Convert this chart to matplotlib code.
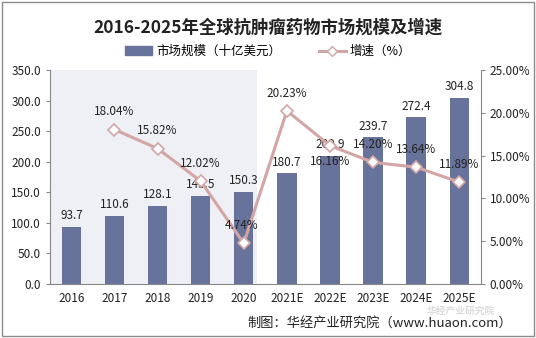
import matplotlib
matplotlib.use("Agg")
import matplotlib.pyplot as plt
from matplotlib.patches import Rectangle

plt.rcParams['font.family'] = ['Noto Sans CJK SC', 'DejaVu Sans']

years = ['2016', '2017', '2018', '2019', '2020', '2021E', '2022E', '2023E', '2024E', '2025E']
market = [93.7, 110.6, 128.1, 143.5, 150.3, 180.7, 209.9, 239.7, 272.4, 304.8]
growth = [None, 18.04, 15.82, 12.02, 4.74, 20.23, 16.16, 14.20, 13.64, 11.89]

barColor = '#67739a'
lineColor = '#d4a5a5'

fig = plt.figure(figsize=(5.36, 3.38), dpi=100)
fig.patches.append(Rectangle((0.004, 0.006), 0.992, 0.988, transform=fig.transFigure,
                             fill=False, edgecolor='#8c8c8c', linewidth=1.0))
ax = fig.add_axes([0.093, 0.160, 0.804, 0.633])
ax2 = ax.twinx()

x = list(range(len(years)))
ax.axvspan(-0.5, 4.3, color='#eef0f5', zorder=0, linewidth=0)
ax.bar(x, market, width=0.45, color=barColor, zorder=2)
for i, v in enumerate(market):
    ax.text(i, v + 8, '%.1f' % v, ha='center', va='bottom', fontsize=8.5, color='#222222', zorder=5)

ax.set_ylim(0, 350)
ax.set_yticks(range(0, 351, 50))
ax.set_yticklabels(['%.1f' % t for t in range(0, 351, 50)])
ax.set_xlim(-0.5, len(years) - 0.5)
ax.set_xticks(x)
ax.set_xticklabels(years)

# growth line, 2016 has no value
gx = [i for i, g in enumerate(growth) if g is not None]
gy = [g for g in growth if g is not None]
ax2.plot(gx, gy, color=lineColor, linewidth=2.2, marker='D', markersize=6,
         markerfacecolor='white', markeredgecolor=lineColor, markeredgewidth=1.2, zorder=4)
offsets = {1: (0, 1.3), 2: (0, 1.3), 3: (0, 1.3), 4: (-0.05, 1.3), 5: (0, 1.3),
           6: (0, -2.6), 7: (0, 1.3), 8: (0, 1.3), 9: (0, 1.3)}
for i, g in zip(gx, gy):
    dx, dy = offsets[i]
    ax2.text(i + dx, g + dy, '%.2f%%' % g, ha='center', va='bottom', fontsize=8.5, color='#222222', zorder=5)
ax2.set_ylim(0, 25)
ax2.set_yticks(range(0, 26, 5))
ax2.set_yticklabels(['%.2f%%' % t for t in range(0, 26, 5)])

for a in (ax, ax2):
    for s in a.spines.values():
        s.set_visible(False)
    a.tick_params(labelsize=8.5, colors='#222222', length=3, color='#888888')
ax.spines['left'].set_visible(True)
ax.spines['bottom'].set_visible(True)
ax2.spines['right'].set_visible(True)
ax.spines['left'].set_color('#888888')
ax.spines['bottom'].set_color('#888888')
ax2.spines['right'].set_color('#888888')
ax.tick_params(axis='x', length=0, pad=6)

fig.text(0.5, 0.918, '2016-2025年全球抗肿瘤药物市场规模及增速', ha='center', va='center',
         fontsize=12.5, fontweight='bold', color='#222222')

h1 = plt.Rectangle((0, 0), 1, 1, color=barColor)
h2, = ax2.plot([], [], color=lineColor, linewidth=2.2, marker='D', markersize=5,
               markerfacecolor='white', markeredgecolor=lineColor)
fig.legend([h1, h2], ['市场规模（十亿美元）', '增速（%）'], loc='center', bbox_to_anchor=(0.5, 0.848),
           ncol=2, frameon=False, fontsize=9, handlelength=2.2, columnspacing=3.0, handletextpad=0.3)

# watermark, kept in the gap between tick labels and source line
fig.text(0.86, 0.08, '华经产业研究院', fontsize=7, fontweight='bold', color='#dcdcdc',
         ha='center', va='center', zorder=0)
fig.text(0.955, 0.045, '制图：华经产业研究院（www.huaon.com）', ha='right', va='center',
         fontsize=9.5, color='#222222')

plt.savefig('out.png', dpi=100)
